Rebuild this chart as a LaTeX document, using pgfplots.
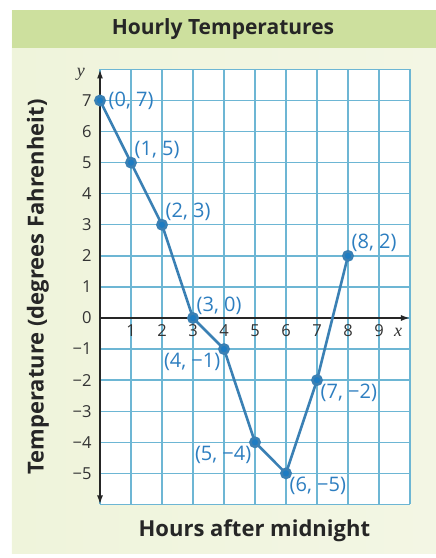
\documentclass[border=0pt]{standalone}
\usepackage{pgfplots}
\pgfplotsset{compat=1.18}
\usepackage{fontspec}
\setmainfont{Open Sans}
\newfontfamily\varfont{Liberation Serif}
\usetikzlibrary{arrows.meta}

\definecolor{panelL}{HTML}{EFF4DB}
\definecolor{panelR}{HTML}{F3F6E4}
\definecolor{band}{HTML}{CDE09E}
\definecolor{gridblue}{HTML}{6DB6D4}
\definecolor{lineblue}{HTML}{3A80B4}
\definecolor{dotblue}{HTML}{1E7CC2}
\definecolor{labblue}{HTML}{2D7EC0}

\pgfplotsset{
    ptlabel/.style={only marks, mark=none, point meta=explicit symbolic,
        nodes near coords,
        every node near coord/.append style={anchor=#1, text=labblue,
            font=\fontsize{20}{22}\selectfont, inner sep=3.5pt}},
}

\begin{document}
\begin{tikzpicture}[x=1pt,y=1pt]
\useasboundingbox (-100,-240) rectangle (336,318);
\shade[left color=panelL, right color=panelR] (-88,-235) rectangle (336,308);
\fill[band] (-88,270) rectangle (336,308);
\node[font=\bfseries\fontsize{21}{23}\selectfont, text=black!85] at (123,289) {Hourly Temperatures};
\begin{axis}[
    at={(0,0)}, anchor=origin,
    scale only axis,
    width=310pt, height=435pt,
    xmin=0, xmax=10, ymin=-6, ymax=8,
    enlargelimits=false,
    axis lines=middle,
    x axis line style={-{Latex[length=9pt,width=6pt]}},
    y axis line style={{Latex[length=9pt,width=6pt]}-{Latex[length=9pt,width=6pt]}},
    axis line style={line width=1.6pt, black!85},
    axis background/.style={fill=white},
    xtick={0,...,10}, ytick={-6,...,8},
    xticklabels={,1,2,3,4,5,6,7,8,9,},
    yticklabels={,−5,−4,−3,−2,−1,0,1,2,3,4,5,6,7,},
    hide obscured x ticks=false, hide obscured y ticks=false,
    major tick length=0pt,
    grid=major,
    grid style={gridblue, line width=1.3pt},
    tick label style={font=\fontsize{16.5}{18}\selectfont, text=black!80},
    xticklabel style={yshift=-3pt},
    yticklabel style={xshift=-5pt},
    xlabel={Hours after midnight},
    ylabel={Temperature (degrees Fahrenheit)},
    label style={font=\bfseries\fontsize{22}{24}\selectfont, text=black!85},
    xlabel style={at={(axis cs:4.98,-6.85)}, anchor=center},
    ylabel style={at={(axis cs:-2.0,1)}, anchor=center, rotate=90},
    clip=false,
]
\addplot[lineblue, line width=2.6pt, mark=*, mark size=4.6pt,
    mark options={fill=dotblue, draw=none}]
    coordinates {(0,7) (1,5) (2,3) (3,0) (4,-1) (5,-4) (6,-5) (7,-2) (8,2)};
% point labels, grouped by where they sit
\addplot[ptlabel=west, every node near coord/.append style={xshift=5pt}]
    coordinates {(0,7) [(0, 7)]};
\addplot[ptlabel=south west]
    coordinates {(1,5) [(1, 5)] (2,3) [(2, 3)] (3,0) [(3, 0)] (8,2) [(8, 2)]};
\addplot[ptlabel=north east]
    coordinates {(4,-1) [(4, −1)] (5,-4) [(5, −4)]};
\addplot[ptlabel=north west]
    coordinates {(6,-5) [(6, −5)] (7,-2) [(7, −2)]};
\node[font=\varfont\itshape\fontsize{18}{20}\selectfont, text=black!80] at (axis cs:9.62,-0.45) {x};
\node[font=\varfont\itshape\fontsize{18}{20}\selectfont, text=black!80] at (axis cs:-0.62,7.83) {y};
\end{axis}
\end{tikzpicture}
\end{document}
